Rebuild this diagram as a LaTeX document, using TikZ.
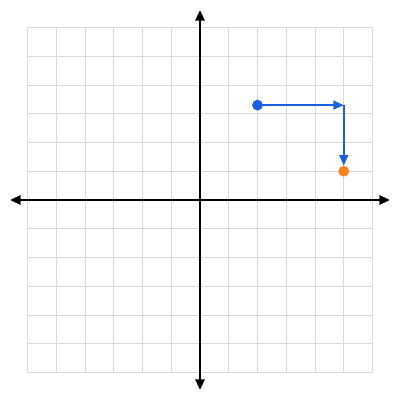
\documentclass[tikz,border=0pt]{standalone}
\usetikzlibrary{arrows.meta}
\definecolor{gridgray}{HTML}{DADADA}
\definecolor{ptblue}{HTML}{1A5FE0}
\definecolor{ptorange}{HTML}{F5821E}
\begin{document}
\begin{tikzpicture}[x=0.71875cm,y=0.71875cm,
  gridline/.style={gridgray,line width=0.6pt},
  axis/.style={black,line width=1.1pt,-{Triangle[length=0.26cm,width=0.24cm]}},
  vec/.style={ptblue,line width=1.1pt,-{Triangle[length=0.26cm,width=0.22cm]}},
  dot/.style={circle,inner sep=0pt,minimum size=0.27cm}]
\useasboundingbox (-6.9565,-6.9565) rectangle (6.9565,6.9565);
\fill[white] (-6.9565,-6.9565) rectangle (6.9565,6.9565);
\foreach \i in {-6,...,6} {
  \draw[gridline] (\i,-6) -- (\i,6);
  \draw[gridline] (-6,\i) -- (6,\i);
}
\coordinate (xl) at (-6.6,0);
\coordinate (xr) at (6.6,0);
\coordinate (yb) at (0,-6.6);
\coordinate (yt) at (0,6.6);
\draw[axis] (0,0) -- (xr);
\draw[axis] (0,0) -- (xl);
\draw[axis] (0,0) -- (yt);
\draw[axis] (0,0) -- (yb);
\node[dot,fill=ptblue] (A) at (2,3.3) {};
\node[dot,fill=ptorange] (B) at (5,1) {};
\coordinate (C) at (5,3.3);
\draw[vec] (A.center) -- (C);
\draw[vec] (C) -- (B);
\end{tikzpicture}
\end{document}
